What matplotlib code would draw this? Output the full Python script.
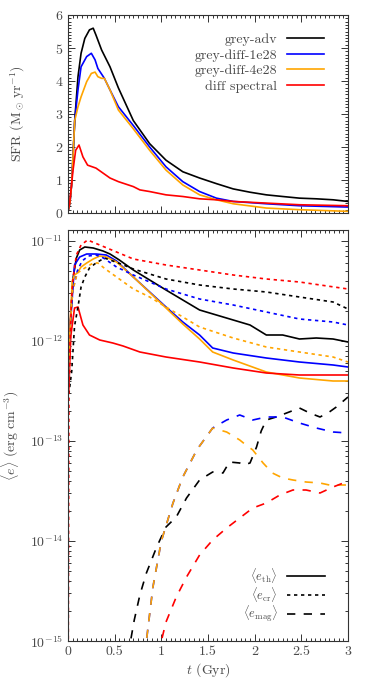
import numpy as np
import matplotlib
matplotlib.use("Agg")
import matplotlib.pyplot as plt
from matplotlib.ticker import (MultipleLocator, LogLocator, FuncFormatter, NullFormatter,
                               AutoMinorLocator)

plt.rcParams["font.family"] = "serif"
plt.rcParams["font.serif"] = ["cmr10", "DejaVu Serif"]
plt.rcParams["mathtext.fontset"] = "cm"
plt.rcParams["axes.formatter.use_mathtext"] = True
plt.rcParams["font.size"] = 10

# --- SFR panel (t in Gyr, SFR in Msun/yr) ---
names = ["grey-adv", "grey-diff-1e28", "grey-diff-4e28", "diff spectral"]
colors = ["black", "#0000ff", "#ffa500", "#ff0000"]

sfr_t_adv = [0, 0.02, 0.04, 0.072, 0.107, 0.14, 0.18, 0.23, 0.27, 0.30, 0.36, 0.45, 0.54, 0.70,
             0.875, 1.05, 1.23, 1.41, 1.59, 1.77, 1.95, 2.125, 2.3, 2.48, 2.66, 2.84, 3.0]
sfr_adv = [0.05, 0.3, 0.9, 2.8, 4.13, 4.84, 5.29, 5.55, 5.6, 5.39, 4.94, 4.43, 3.79, 2.8,
           2.1, 1.6, 1.25, 1.06, 0.89, 0.73, 0.63, 0.55, 0.5, 0.45, 0.43, 0.40, 0.35]

sfr_t_d1 = [0, 0.02, 0.04, 0.072, 0.107, 0.14, 0.20, 0.25, 0.29, 0.32, 0.39, 0.45, 0.54, 0.70,
            0.875, 1.05, 1.23, 1.41, 1.59, 1.77, 2.125, 2.48, 3.0]
sfr_d1 = [0.05, 0.3, 0.9, 2.8, 3.73, 4.43, 4.74, 4.84, 4.64, 4.38, 4.08, 3.73, 3.22, 2.65,
          2.0, 1.4, 0.95, 0.65, 0.45, 0.35, 0.28, 0.22, 0.18]

sfr_t_d4 = [0, 0.02, 0.04, 0.072, 0.107, 0.14, 0.20, 0.25, 0.29, 0.32, 0.36, 0.39, 0.45, 0.54,
            0.70, 0.875, 1.05, 1.23, 1.41, 1.59, 1.77, 2.125, 2.48, 3.0]
sfr_d4 = [0.05, 0.3, 0.9, 2.8, 3.22, 3.52, 3.98, 4.23, 4.27, 4.13, 4.08, 4.08, 3.73, 3.12,
          2.55, 1.9, 1.3, 0.85, 0.55, 0.4, 0.28, 0.15, 0.1, 0.05]

sfr_t_sp = [0, 0.018, 0.054, 0.082, 0.118, 0.16, 0.21, 0.30, 0.375, 0.45, 0.54, 0.70, 0.77,
            0.875, 1.05, 1.23, 1.41, 1.59, 1.77, 2.125, 2.48, 3.0]
sfr_sp = [0.05, 0.3, 1.3, 1.9, 2.06, 1.7, 1.45, 1.36, 1.21, 1.06, 0.95, 0.8, 0.7,
          0.65, 0.55, 0.5, 0.43, 0.40, 0.35, 0.3, 0.25, 0.22]

# --- energy densities, log10(erg cm^-3) ---
e_ticks = [1e-15, 1e-14, 1e-13, 1e-12, 1e-11]

eth_t_adv = [0, 0.02, 0.054, 0.09, 0.125, 0.18, 0.27, 0.375, 0.45, 0.55, 0.70, 0.875, 1.05, 1.23,
             1.41, 1.59, 1.77, 1.95, 2.125, 2.3, 2.48, 2.66, 2.84, 3.0]
eth_adv = [-12.5, -11.9, -11.37, -11.17, -11.09, -11.06, -11.07, -11.10, -11.13, -11.19, -11.29,
           -11.39, -11.49, -11.59, -11.69, -11.74, -11.79, -11.84, -11.94, -11.94, -11.98, -11.97,
           -11.98, -12.01]
eth_t_d1 = [0, 0.02, 0.07, 0.125, 0.2, 0.30, 0.41, 0.52, 0.70, 0.875, 1.05, 1.23, 1.41, 1.55,
            1.77, 2.125, 2.48, 2.84, 3.0]
eth_d1 = [-12.5, -11.9, -11.24, -11.16, -11.13, -11.13, -11.14, -11.20, -11.36, -11.51, -11.66,
          -11.81, -11.94, -12.07, -12.12, -12.17, -12.21, -12.24, -12.26]
eth_t_d4 = [0, 0.02, 0.045, 0.07, 0.10, 0.14, 0.2, 0.27, 0.34, 0.41, 0.52, 0.70, 1.05, 1.23,
            1.41, 1.55, 1.77, 2.125, 2.48, 2.84, 3.0]
eth_d4 = [-12.5, -11.9, -11.4, -11.34, -11.32, -11.26, -11.22, -11.18, -11.15, -11.16, -11.21,
          -11.36, -11.67, -11.83, -11.98, -12.11, -12.19, -12.31, -12.37, -12.40, -12.40]
eth_t_sp = [0, 0.008, 0.03, 0.07, 0.107, 0.16, 0.23, 0.34, 0.48, 0.59, 0.77, 1.05, 1.41, 1.77,
            2.125, 2.48, 3.0]
eth_sp = [-11.35, -12.5, -11.95, -11.67, -11.66, -11.84, -11.94, -11.99, -12.02, -12.05, -12.11,
          -12.16, -12.21, -12.27, -12.32, -12.34, -12.34]

ecr_t_adv = [0, 0.04, 0.07, 0.107, 0.14, 0.18, 0.23, 0.30, 0.39, 0.45, 0.54, 0.70, 1.05, 1.41,
             1.77, 2.125, 2.48, 2.84, 3.0]
ecr_adv = [-12.6, -12.3, -11.85, -11.66, -11.46, -11.36, -11.27, -11.22, -11.17, -11.19, -11.22,
           -11.28, -11.38, -11.44, -11.48, -11.51, -11.56, -11.61, -11.68]
ecr_t_d1 = [0, 0.02, 0.05, 0.1, 0.15, 0.22, 0.3, 0.38, 0.52, 0.70, 1.05, 1.41, 1.77, 2.125,
            2.48, 2.84, 3.0]
ecr_d1 = [-12.5, -11.9, -11.5, -11.3, -11.2, -11.15, -11.14, -11.17, -11.26, -11.34, -11.48,
          -11.58, -11.64, -11.71, -11.78, -11.81, -11.84]
ecr_t_d4 = [0, 0.02, 0.05, 0.1, 0.18, 0.27, 0.32, 0.4, 0.52, 0.70, 0.875, 1.05, 1.23, 1.41,
            1.77, 2.125, 2.48, 2.84, 3.0]
ecr_d4 = [-12.5, -11.9, -11.5, -11.32, -11.27, -11.22, -11.22, -11.28, -11.36, -11.48, -11.56,
          -11.66, -11.76, -11.86, -11.97, -12.06, -12.11, -12.16, -12.21]
ecr_t_sp = [0, 0.01, 0.036, 0.054, 0.09, 0.14, 0.21, 0.34, 0.70, 1.05, 1.41, 1.77, 2.125, 2.48, 3.0]
ecr_sp = [-16, -12.5, -11.6, -11.37, -11.14, -11.04, -10.99, -11.04, -11.18, -11.24, -11.29,
          -11.34, -11.38, -11.41, -11.48]

emag_t_adv = [0.6, 0.67, 0.71, 0.77, 0.84, 0.95, 1.05, 1.16, 1.27, 1.41, 1.55, 1.66, 1.73, 1.84,
              1.88, 1.95, 2.02, 2.07, 2.125, 2.23, 2.37, 2.48, 2.59, 2.70, 2.80, 2.875, 3.0]
emag_adv = [-15.5, -15.0, -14.79, -14.54, -14.32, -14.06, -13.86, -13.76, -13.57, -13.39, -13.31,
            -13.32, -13.21, -13.22, -13.24, -13.22, -13.06, -12.9, -12.79, -12.76, -12.71, -12.67,
            -12.72, -12.76, -12.71, -12.66, -12.56]
emag_t_d1 = [0.80, 0.84, 0.91, 1.0, 1.125, 1.23, 1.38, 1.41, 1.55, 1.70, 1.84, 1.98, 2.125, 2.30,
             2.48, 2.66, 2.84, 3.0]
emag_d1 = [-15.3, -15.0, -14.46, -14.0, -13.62, -13.36, -13.09, -13.05, -12.87, -12.79, -12.74,
           -12.79, -12.76, -12.76, -12.82, -12.87, -12.91, -12.92]
emag_t_d4 = [0.80, 0.84, 0.91, 1.0, 1.125, 1.23, 1.38, 1.41, 1.55, 1.70, 1.84, 1.88, 1.98, 2.09,
             2.19, 2.30, 2.41, 2.55, 2.70, 2.80, 2.91, 3.0]
emag_d4 = [-15.3, -15.0, -14.46, -14.0, -13.62, -13.36, -13.09, -13.05, -12.87, -12.91, -12.99,
           -13.02, -13.09, -13.22, -13.32, -13.37, -13.39, -13.41, -13.42, -13.44, -13.44, -13.44]
emag_t_sp = [0.95, 1.0, 1.05, 1.16, 1.27, 1.41, 1.55, 1.70, 1.84, 1.98, 2.125, 2.27, 2.41, 2.55,
             2.70, 2.84, 2.95, 3.0]
emag_sp = [-15.3, -15.0, -14.81, -14.56, -14.36, -14.14, -13.99, -13.87, -13.77, -13.67, -13.62,
           -13.54, -13.49, -13.49, -13.52, -13.46, -13.42, -13.45]

comp_labels = [r"$\langle e_{\rm th}\rangle$", r"$\langle e_{\rm cr}\rangle$",
               r"$\langle e_{\rm mag}\rangle$"]

txt = "#4a4a4a"
lw = 1.2
dot = (0, (2.0, 2.2))
dash = (0, (5.0, 5.0))

fig = plt.figure(figsize=(3.74, 6.87), dpi=100)
ax1 = fig.add_axes([68 / 374, 1 - 213 / 687, 280 / 374, 198 / 687])
ax2 = fig.add_axes([68 / 374, 1 - 641 / 687, 280 / 374, 411 / 687])

sfr_sets = [(sfr_t_adv, sfr_adv), (sfr_t_d1, sfr_d1), (sfr_t_d4, sfr_d4), (sfr_t_sp, sfr_sp)]
for (t, v), c, n in zip(sfr_sets, colors, names):
    ax1.plot(t, v, color=c, lw=lw, label=n)

ax1.set_xlim(0, 3)
ax1.set_ylim(0, 6)
ax1.set_ylabel(r"SFR (M$_\odot\,$yr$^{-1}$)", color=txt)
ax1.yaxis.set_label_coords(-0.145, 0.5)
ax1.xaxis.set_major_locator(MultipleLocator(0.5))
ax1.xaxis.set_minor_locator(AutoMinorLocator(10))
ax1.yaxis.set_major_locator(MultipleLocator(1))
ax1.yaxis.set_minor_locator(AutoMinorLocator(10))
ax1.xaxis.set_major_formatter(NullFormatter())
leg1 = ax1.legend(loc="upper right", bbox_to_anchor=(0.935, 0.935), frameon=False,
                  markerfirst=False, handlelength=2.7, handletextpad=0.7, labelspacing=0.2,
                  borderaxespad=0)
for tx in leg1.get_texts():
    tx.set_color(txt)

eth_sets = [(eth_t_adv, eth_adv), (eth_t_d1, eth_d1), (eth_t_d4, eth_d4), (eth_t_sp, eth_sp)]
ecr_sets = [(ecr_t_adv, ecr_adv), (ecr_t_d1, ecr_d1), (ecr_t_d4, ecr_d4), (ecr_t_sp, ecr_sp)]
emag_sets = [(emag_t_adv, emag_adv), (emag_t_d1, emag_d1), (emag_t_d4, emag_d4),
             (emag_t_sp, emag_sp)]

for sets, ls in [(eth_sets, "-"), (ecr_sets, dot), (emag_sets, dash)]:
    for (t, v), c in zip(sets, colors):
        ax2.plot(t, 10.0 ** np.array(v), color=c, lw=lw, ls=ls)

for lab, ls in zip(comp_labels, ["-", dot, dash]):
    ax2.plot([], [], color="black", lw=lw, ls=ls, label=lab)

ax2.set_yscale("log")
ax2.set_xlim(0, 3)
ax2.set_ylim(1e-15, 10 ** -10.89)
ax2.set_xlabel(r"$t$ (Gyr)", color=txt, labelpad=2)
ax2.set_ylabel(r"$\langle e\rangle$ (erg cm$^{-3}$)", color=txt)
ax2.yaxis.set_label_coords(-0.168, 0.5)
ax2.xaxis.set_major_locator(MultipleLocator(0.5))
ax2.xaxis.set_minor_locator(AutoMinorLocator(10))
ax2.xaxis.set_major_formatter(FuncFormatter(lambda x, p: "%g" % x))
ax2.set_yticks(e_ticks)
ax2.yaxis.set_minor_locator(LogLocator(base=10, subs=np.arange(2, 10), numticks=20))
ax2.yaxis.set_minor_formatter(NullFormatter())
leg2 = ax2.legend(loc="lower right", bbox_to_anchor=(0.935, 0.028), frameon=False,
                  markerfirst=False, handlelength=3.0, handletextpad=0.75, labelspacing=0.0,
                  borderaxespad=0, fontsize=9)
for tx in leg2.get_texts():
    tx.set_color(txt)

for ax in (ax1, ax2):
    ax.tick_params(which="both", direction="in", top=True, right=True, labelcolor=txt,
                   color="#333333", width=0.7)
    ax.tick_params(which="major", length=5)
    ax.tick_params(which="minor", length=2.5)
    for s in ax.spines.values():
        s.set_color("#333333")
        s.set_linewidth(0.8)

fig.savefig("out.png", dpi=100)
